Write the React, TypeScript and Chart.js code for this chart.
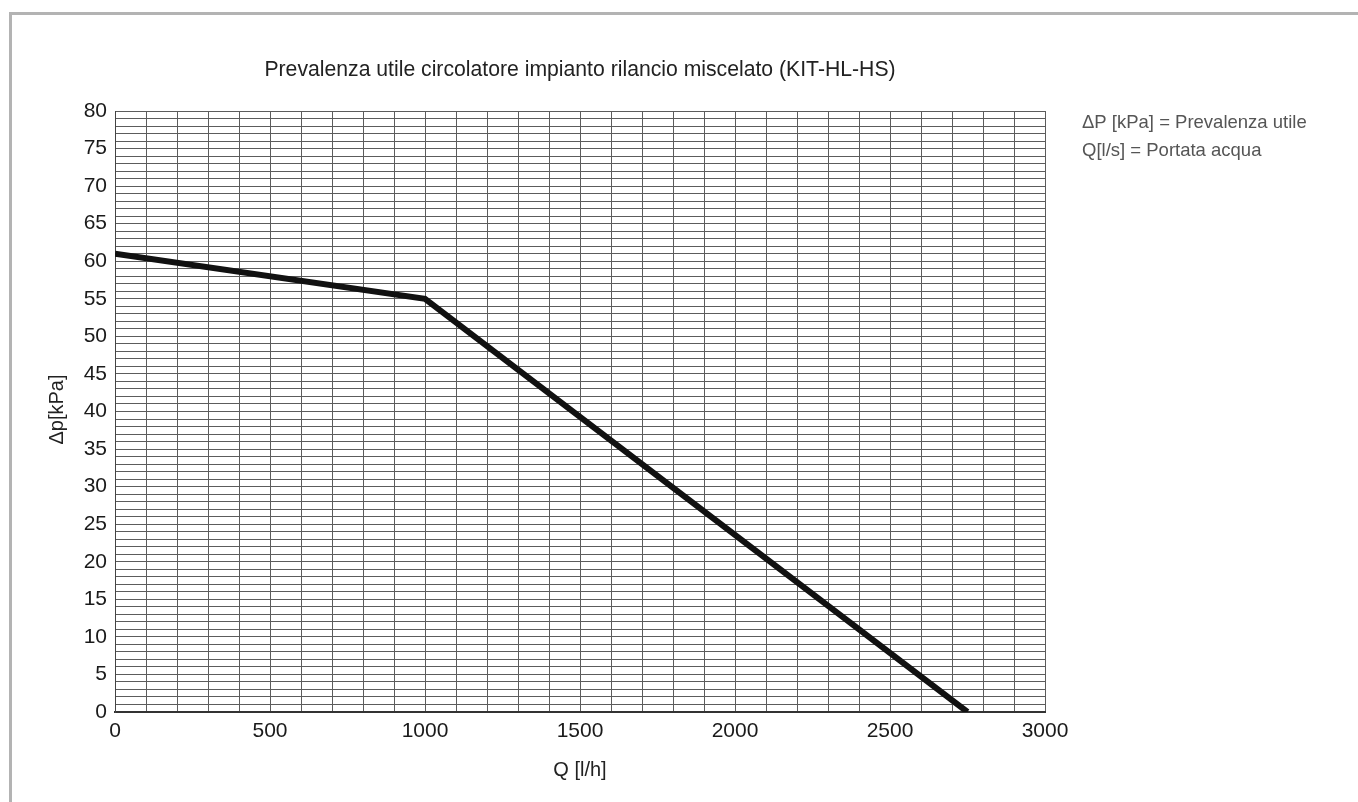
import React, { useEffect, useRef } from "react";
import { Chart, registerables } from "chart.js";

Chart.register(...registerables);

// Pump curve: available head vs. water flow
const flowLh = [0, 1000, 2750];
const headKPa = [61, 55, 0];

const xTickLabels = [0, 500, 1000, 1500, 2000, 2500, 3000];
const yTickLabels = [0, 5, 10, 15, 20, 25, 30, 35, 40, 45, 50, 55, 60, 65, 70, 75, 80];

const titleText = "Prevalenza utile circolatore impianto rilancio miscelato (KIT-HL-HS)";
const xTitle = "Q [l/h]";
const yTitle = "\u0394p[kPa]";
const legendLines = ["\u0394P [kPa] = Prevalenza utile", "Q[l/s] = Portata acqua"];

const FONT = '"Liberation Sans", Arial, Helvetica, sans-serif';

const W = 1358;
const H = 802;

const annotations = {
  id: "annotations",
  beforeDraw(chart: any) {
    const ctx = chart.ctx;
    ctx.save();
    // page frame (left and top edges)
    ctx.strokeStyle = "#b3b3b3";
    ctx.lineWidth = 3;
    ctx.beginPath();
    ctx.moveTo(10.5, H);
    ctx.lineTo(10.5, 13.5);
    ctx.lineTo(W, 13.5);
    ctx.stroke();
    ctx.restore();
  },
  afterDraw(chart: any) {
    const ctx = chart.ctx;
    const area = chart.chartArea;
    const cx = (area.left + area.right) / 2;
    const cy = (area.top + area.bottom) / 2;
    ctx.save();
    ctx.fillStyle = "#222222";
    ctx.textAlign = "center";
    ctx.textBaseline = "middle";
    ctx.font = `21.2px ${FONT}`;
    ctx.fillText(titleText, cx, 70);

    ctx.font = `20px ${FONT}`;
    ctx.fillText(xTitle, cx, 770);

    ctx.save();
    ctx.translate(57, cy - 2);
    ctx.rotate(-Math.PI / 2);
    ctx.fillText(yTitle, 0, 0);
    ctx.restore();

    ctx.fillStyle = "#555555";
    ctx.textAlign = "left";
    ctx.font = `18.5px ${FONT}`;
    legendLines.forEach((t, i) => ctx.fillText(t, 1082, 123 + i * 28));
    ctx.restore();
  },
};

export default function App() {
  const ref = useRef<HTMLCanvasElement | null>(null);

  useEffect(() => {
    if (!ref.current) return;
    const chart = new Chart(ref.current, {
      type: "line",
      data: {
        datasets: [
          {
            data: flowLh.map((q, i) => ({ x: q, y: headKPa[i] })),
            borderColor: "#111111",
            borderWidth: 6,
            pointRadius: 0,
            tension: 0,
            fill: false,
            borderCapStyle: "butt",
            borderJoinStyle: "miter",
          },
        ],
      },
      options: {
        responsive: false,
        animation: false,
        events: [],
        layout: { padding: { left: 0, top: 111, right: W - 1045, bottom: 0 } },
        plugins: {
          legend: { display: false },
          title: { display: false },
          tooltip: { enabled: false },
        },
        scales: {
          x: {
            type: "linear",
            min: 0,
            max: 3000,
            afterFit: (s: any) => {
              s.height = H - 712;
            },
            ticks: {
              stepSize: 100,
              autoSkip: false,
              maxRotation: 0,
              padding: 7,
              color: "#1a1a1a",
              font: { family: FONT, size: 21 },
              callback: (v: any) => (xTickLabels.includes(Number(v)) ? String(v) : ""),
            },
            grid: { color: "#5c5c5c", lineWidth: 1, drawTicks: false },
            border: { display: true, color: "#333333", width: 2 },
          },
          y: {
            type: "linear",
            min: 0,
            max: 80,
            afterFit: (s: any) => {
              s.width = 115;
            },
            ticks: {
              stepSize: 1,
              autoSkip: false,
              padding: 8,
              color: "#1a1a1a",
              font: { family: FONT, size: 21 },
              callback: (v: any) => (yTickLabels.includes(Number(v)) ? String(v) : ""),
            },
            grid: { color: "#5c5c5c", lineWidth: 1, drawTicks: false },
            border: { display: true, color: "#444444", width: 1 },
          },
        },
      },
      plugins: [annotations],
    });
    return () => chart.destroy();
  }, []);

  return (
    <div style={{ position: "absolute", left: 0, top: 0, width: W, height: H, background: "#fff" }}>
      <canvas ref={ref} width={W} height={H} style={{ display: "block" }} />
    </div>
  );
}
